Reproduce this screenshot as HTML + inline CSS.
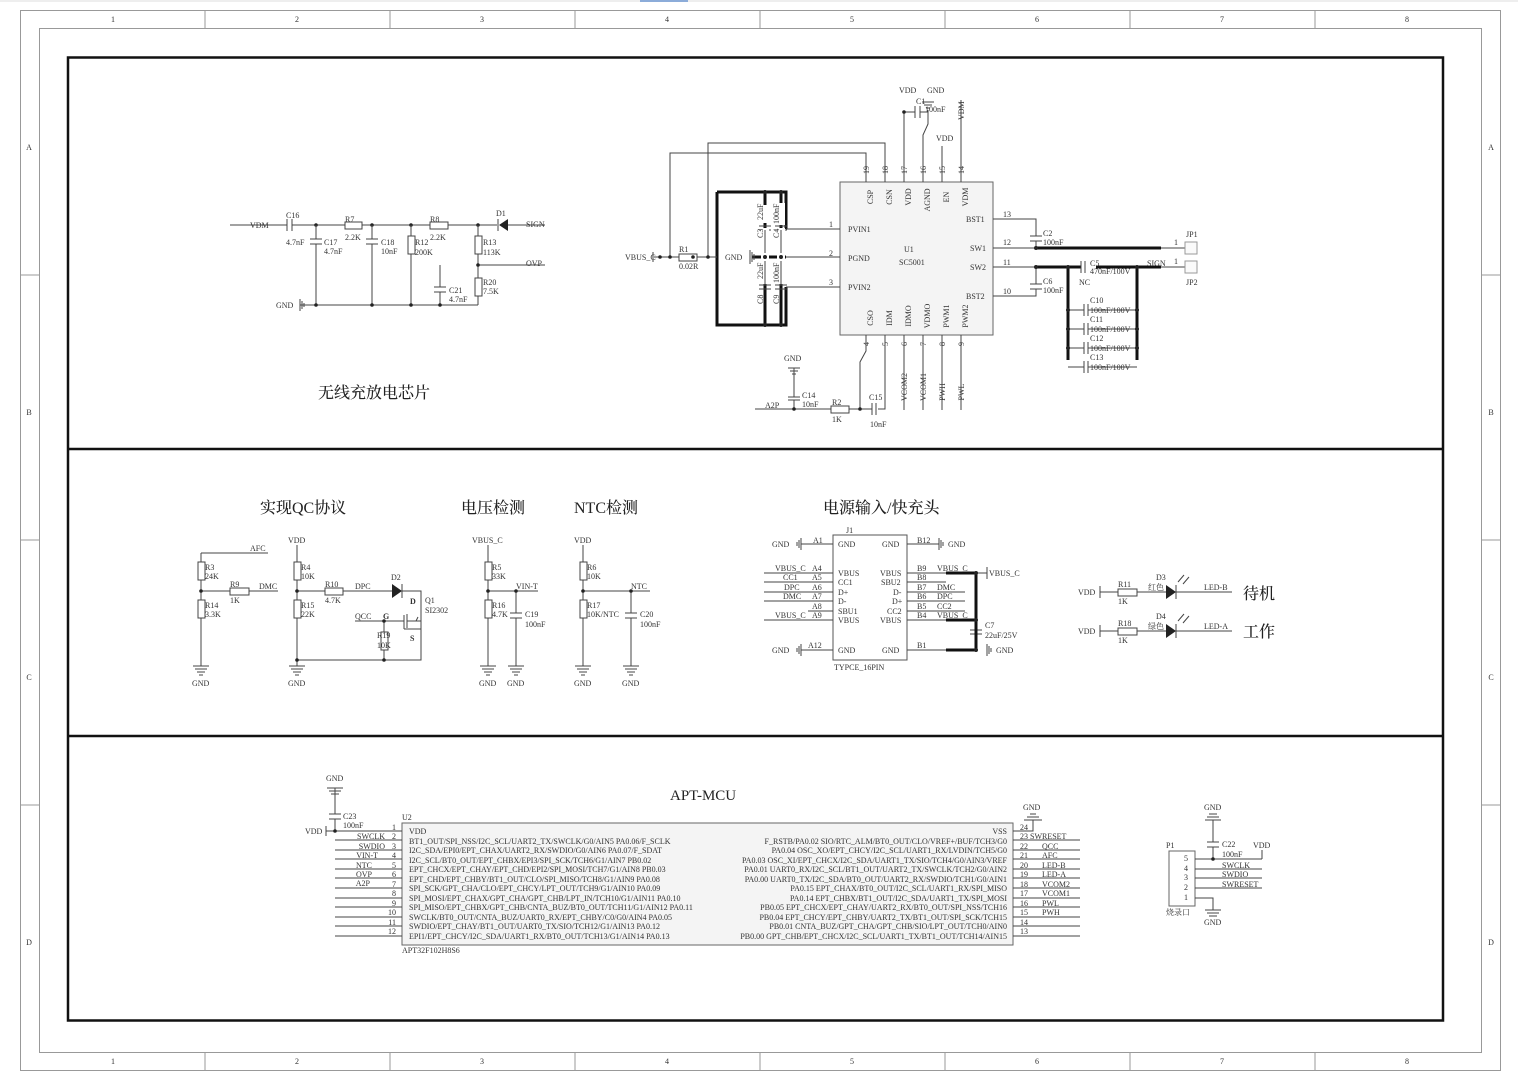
<!DOCTYPE html>
<html><head><meta charset="utf-8"><style>
html,body{margin:0;padding:0;background:#fff}
svg{display:block}
text{font-family:"Liberation Serif","Noto Serif CJK SC",serif;font-size:8px;fill:#333}
.t{font-size:16px;fill:#222;font-family:"Liberation Serif","Noto Serif CJK SC",serif;font-weight:500}
.w{stroke:#444;stroke-width:1;fill:none}
.k{stroke:#111;stroke-width:3;fill:none}
.r{stroke:#444;stroke-width:1;fill:#fff}
.d{fill:#222}
</style></head><body>
<svg width="1518" height="1079" viewBox="0 0 1518 1079" xmlns="http://www.w3.org/2000/svg">
<rect x="0" y="0" width="1518" height="1079" fill="#fff"/>
<rect x="640" y="0" width="48" height="2" fill="#3a7bd5"/>
<line x1="0" y1="1" x2="1518" y2="1" stroke="#ddd"/>
<!-- frame -->
<rect x="20.5" y="10.5" width="1480" height="1060" fill="none" stroke="#999"/>
<rect x="39.5" y="28.5" width="1442" height="1024" fill="none" stroke="#999"/>
<g stroke="#999">
<line x1="205" y1="10" x2="205" y2="28"/><line x1="390" y1="10" x2="390" y2="28"/><line x1="575" y1="10" x2="575" y2="28"/><line x1="760" y1="10" x2="760" y2="28"/><line x1="945" y1="10" x2="945" y2="28"/><line x1="1130" y1="10" x2="1130" y2="28"/><line x1="1315" y1="10" x2="1315" y2="28"/>
<line x1="205" y1="1052" x2="205" y2="1070"/><line x1="390" y1="1052" x2="390" y2="1070"/><line x1="575" y1="1052" x2="575" y2="1070"/><line x1="760" y1="1052" x2="760" y2="1070"/><line x1="945" y1="1052" x2="945" y2="1070"/><line x1="1130" y1="1052" x2="1130" y2="1070"/><line x1="1315" y1="1052" x2="1315" y2="1070"/>
<line x1="20" y1="275" x2="39" y2="275"/><line x1="20" y1="540" x2="39" y2="540"/><line x1="20" y1="805" x2="39" y2="805"/>
<line x1="1481" y1="275" x2="1500" y2="275"/><line x1="1481" y1="540" x2="1500" y2="540"/><line x1="1481" y1="805" x2="1500" y2="805"/>
</g>
<g text-anchor="middle">
<text x="113" y="22">1</text><text x="297" y="22">2</text><text x="482" y="22">3</text><text x="667" y="22">4</text><text x="852" y="22">5</text><text x="1037" y="22">6</text><text x="1222" y="22">7</text><text x="1407" y="22">8</text>
<text x="113" y="1064">1</text><text x="297" y="1064">2</text><text x="482" y="1064">3</text><text x="667" y="1064">4</text><text x="852" y="1064">5</text><text x="1037" y="1064">6</text><text x="1222" y="1064">7</text><text x="1407" y="1064">8</text>
<text x="29" y="150">A</text><text x="29" y="415">B</text><text x="29" y="680">C</text><text x="29" y="945">D</text>
<text x="1491" y="150">A</text><text x="1491" y="415">B</text><text x="1491" y="680">C</text><text x="1491" y="945">D</text>
</g>
<!-- big boxes -->
<rect x="68" y="57.5" width="1375" height="963" fill="none" stroke="#111" stroke-width="2.5"/>
<line x1="68" y1="449" x2="1443" y2="449" stroke="#111" stroke-width="2.5"/>
<line x1="68" y1="736" x2="1443" y2="736" stroke="#111" stroke-width="2.5"/>

<!-- ===== Section 1 left ===== -->
<g>
<path class="w" d="M230 225 H287 M292 225 H345 M362 225 H430 M448 225 H497 M508 225 H545"/>
<line x1="287" y1="219" x2="287" y2="231" class="w"/><line x1="292" y1="219" x2="292" y2="231" class="w"/>
<text x="250" y="228">VDM</text><text x="286" y="218">C16</text><text x="286" y="245">4.7nF</text>
<rect x="345" y="222" width="17" height="7" class="r"/><text x="345" y="222">R7</text><text x="345" y="240">2.2K</text>
<rect x="430" y="222" width="18" height="7" class="r"/><text x="430" y="222">R8</text><text x="430" y="240">2.2K</text>
<polygon points="508,219 508,231 499,225" class="d"/><line x1="498" y1="219" x2="498" y2="231" class="w"/>
<text x="496" y="216">D1</text><text x="526" y="227">SIGN</text>
<circle cx="316" cy="225" r="1.8" class="d"/><circle cx="372" cy="225" r="1.8" class="d"/><circle cx="411" cy="225" r="1.8" class="d"/><circle cx="478" cy="225" r="1.8" class="d"/>
<path class="w" d="M316 225 V239 M316 244 V305 M372 225 V239 M372 244 V305 M411 225 V236 M411 254 V305 M478 225 V236 M478 254 V278 M478 296 V305 M300 305 H478 M478 265 H545 M440 265 V287 M440 292 V305"/>
<path class="w" d="M310 239 H322 M310 244 H322 M366 239 H378 M366 244 H378 M434 287 H446 M434 292 H446"/>
<rect x="408" y="236" width="7" height="18" class="r"/><rect x="475" y="236" width="7" height="18" class="r"/><rect x="475" y="278" width="7" height="18" class="r"/>
<circle cx="478" cy="265" r="1.8" class="d"/><circle cx="316" cy="305" r="1.8" class="d"/><circle cx="372" cy="305" r="1.8" class="d"/><circle cx="411" cy="305" r="1.8" class="d"/><circle cx="440" cy="305" r="1.8" class="d"/>
<path class="w" d="M300 299 V311 M302 301 V309 M304 303 V307"/>
<text x="276" y="308">GND</text>
<text x="324" y="245">C17</text><text x="324" y="254">4.7nF</text>
<text x="381" y="245">C18</text><text x="381" y="254">10nF</text>
<text x="415" y="245">R12</text><text x="415" y="255">200K</text>
<text x="483" y="245">R13</text><text x="483" y="255">113K</text>
<text x="526" y="266">OVP</text>
<text x="449" y="293">C21</text><text x="449" y="302">4.7nF</text>
<text x="483" y="285">R20</text><text x="483" y="294">7.5K</text>
<text x="318" y="398" class="t">无线充放电芯片</text>
</g>

<!-- ===== U1 ===== -->
<g>
<rect x="840" y="182" width="153" height="153" fill="#f4f4f4" stroke="#666"/>
<path class="w" d="M866 182 V153 H670 V258 M885 182 V143 H708 V258 M904 182 V112 M923 182 V135 L928 124 V110 M942 182 V146 M961 182 V100"/>
<path class="w" d="M904 112 H915 M920 112 H928 M915 106 V118 M920 106 V118"/>
<circle cx="904" cy="112" r="1.8" class="d"/>
<path class="w" d="M922 102 H934 M924 105 H932 M926 108 H930"/>
<text x="899" y="93">VDD</text><text x="927" y="93">GND</text><text x="916" y="104">C1</text><text x="925" y="112">100nF</text>
<text x="936" y="141">VDD</text>
<text x="0" y="0" transform="translate(964,120) rotate(-90)">VDM</text>
<g text-anchor="middle">
<text transform="translate(869,170) rotate(-90)">19</text><text transform="translate(888,170) rotate(-90)">18</text><text transform="translate(907,170) rotate(-90)">17</text><text transform="translate(926,170) rotate(-90)">16</text><text transform="translate(945,170) rotate(-90)">15</text><text transform="translate(964,170) rotate(-90)">14</text>
<text transform="translate(873,197) rotate(-90)">CSP</text><text transform="translate(892,197) rotate(-90)">CSN</text><text transform="translate(911,197) rotate(-90)">VDD</text><text transform="translate(930,200) rotate(-90)">AGND</text><text transform="translate(949,197) rotate(-90)">EN</text><text transform="translate(968,197) rotate(-90)">VDM</text>
<text transform="translate(873,318) rotate(-90)">CSO</text><text transform="translate(892,318) rotate(-90)">IDM</text><text transform="translate(911,316) rotate(-90)">IDMO</text><text transform="translate(930,316) rotate(-90)">VDMO</text><text transform="translate(949,316) rotate(-90)">PWM1</text><text transform="translate(968,316) rotate(-90)">PWM2</text>
<text transform="translate(869,344) rotate(-90)">4</text><text transform="translate(888,344) rotate(-90)">5</text><text transform="translate(907,344) rotate(-90)">6</text><text transform="translate(926,344) rotate(-90)">7</text><text transform="translate(945,344) rotate(-90)">8</text><text transform="translate(964,344) rotate(-90)">9</text>
<text transform="translate(907,387) rotate(-90)">VCOM2</text><text transform="translate(926,387) rotate(-90)">VCOM1</text><text transform="translate(945,392) rotate(-90)">PWH</text><text transform="translate(964,392) rotate(-90)">PWL</text>
</g>
<path class="w" d="M866 335 V351 L860 362 V409 M885 335 V409 H878 M904 335 V410 M923 335 V410 M942 335 V410 M961 335 V410"/>
<path class="w" d="M755 409 H831 M849 409 H860 M860 409 H872 M872 403 V415 M876 403 V415 M794 368 V397 M794 400 V409"/>
<path class="w" d="M788 397 H800 M788 400 H800 M788 368 H800 M790 371 H798 M792 374 H796"/>
<rect x="831" y="406" width="18" height="7" class="r"/>
<circle cx="794" cy="409" r="1.8" class="d"/><circle cx="860" cy="409" r="1.8" class="d"/>
<text x="784" y="361">GND</text><text x="802" y="398">C14</text><text x="802" y="407">10nF</text><text x="765" y="408">A2P</text>
<text x="832" y="405">R2</text><text x="832" y="422">1K</text><text x="869" y="400">C15</text><text x="870" y="427">10nF</text>
<text x="904" y="252">U1</text><text x="899" y="265">SC5001</text>
<text x="848" y="232">PVIN1</text><text x="848" y="261">PGND</text><text x="848" y="290">PVIN2</text>
<text x="966" y="222">BST1</text><text x="970" y="251">SW1</text><text x="970" y="270">SW2</text><text x="966" y="299">BST2</text>
<text x="829" y="227">1</text><text x="829" y="256">2</text><text x="829" y="285">3</text>
<text x="1003" y="217">13</text><text x="1003" y="245">12</text><text x="1003" y="265">11</text><text x="1003" y="294">10</text>
<!-- left thick -->
<path class="k" d="M717 192 H786 V229 M717 192 V325 H786 V287"/>
<path class="w" d="M786 229 H840 M786 287 H840 M786 257 H840"/>
<path class="k" d="M752 257 H786 M765 192 V325 M781 192 V325"/>
<path class="w" d="M759 226 H771 M759 230 H771 M775 226 H787 M775 230 H787 M759 285 H771 M759 289 H771 M775 285 H787 M775 289 H787"/>
<rect x="761" y="228" width="8" height="56" fill="#fff"/><rect x="777" y="228" width="8" height="56" fill="#fff"/>
<path class="w" d="M765 230 V253 M765 261 V285 M781 230 V253 M781 261 V285"/>
<rect x="761" y="205" width="8" height="18" fill="#fff"/><rect x="777" y="203" width="8" height="22" fill="#fff"/>
<text transform="translate(763,220) rotate(-90)" font-size="7">22uF</text><text transform="translate(779,224) rotate(-90)" font-size="7">100nF</text>
<text transform="translate(763,238) rotate(-90)" font-size="7">C3</text><text transform="translate(779,238) rotate(-90)" font-size="7">C4</text>
<text transform="translate(763,279) rotate(-90)" font-size="7">22uF</text><text transform="translate(779,283) rotate(-90)" font-size="7">100nF</text>
<text transform="translate(763,304) rotate(-90)" font-size="7">C8</text><text transform="translate(779,304) rotate(-90)" font-size="7">C9</text>
<circle cx="765" cy="192" r="2" class="d"/><circle cx="781" cy="192" r="2" class="d"/><circle cx="765" cy="257" r="2" class="d"/><circle cx="781" cy="257" r="2" class="d"/><circle cx="765" cy="325" r="2" class="d"/><circle cx="781" cy="325" r="2" class="d"/>
<path class="w" d="M750 250 V264 M752 252 V262 M754 254 V260"/>
<text x="725" y="260">GND</text>
<path class="w" d="M654 257 H679 M697 257 H717 M653 252 V262"/>
<rect x="679" y="254" width="18" height="7" class="r"/>
<circle cx="660" cy="257" r="1.8" class="d"/><circle cx="693" cy="257" r="1.8" class="d"/>
<circle cx="670" cy="257" r="1.8" class="d"/><circle cx="708" cy="257" r="1.8" class="d"/>
<text x="625" y="260">VBUS_C</text><text x="679" y="252">R1</text><text x="679" y="269">0.02R</text>
<!-- right side -->
<path class="w" d="M993 219 H1036 V236 M1036 241 V248 M993 248 H1036 M993 267 H1036 V284 M1036 289 V296 H993"/>
<path class="w" d="M1030 236 H1042 M1030 241 H1042 M1030 284 H1042 M1030 289 H1042"/>
<path class="k" d="M1036 248 H1161 M1036 267 H1081 M1096 267 H1161"/>
<path class="w" d="M1161 248 H1185 M1161 267 H1185 M1081 261 V273 M1085 261 V273"/>
<rect x="1185" y="242" width="12" height="12" fill="#fafafa" stroke="#999"/><rect x="1185" y="261" width="12" height="12" fill="#fafafa" stroke="#999"/>
<path class="k" d="M1068 267 V360 M1137 267 V360"/>
<path class="w" d="M1068 310 H1084 M1088 310 H1137 M1068 329 H1084 M1088 329 H1137 M1068 348 H1084 M1088 348 H1137 M1068 367 H1084 M1088 367 H1137 M1084 304 V316 M1088 304 V316 M1084 323 V335 M1088 323 V335 M1084 342 V354 M1088 342 V354 M1084 361 V373 M1088 361 V373"/>
<g class="d"><circle cx="1036" cy="248" r="2"/><circle cx="1036" cy="267" r="2"/><circle cx="1068" cy="267" r="2"/><circle cx="1137" cy="267" r="2"/><circle cx="1068" cy="310" r="2"/><circle cx="1137" cy="310" r="2"/><circle cx="1068" cy="329" r="2"/><circle cx="1137" cy="329" r="2"/><circle cx="1068" cy="348" r="2"/><circle cx="1137" cy="348" r="2"/></g>
<text x="1043" y="236">C2</text><text x="1043" y="245">100nF</text><text x="1043" y="284">C6</text><text x="1043" y="293">100nF</text>
<text x="1090" y="266">C5</text><text x="1090" y="274">470nF/100V</text><text x="1079" y="285" font-size="7">NC</text>
<text x="1147" y="266">SIGN</text><text x="1174" y="245">1</text><text x="1174" y="264">1</text>
<text x="1186" y="237">JP1</text><text x="1186" y="285">JP2</text>
<text x="1090" y="303">C10</text><text x="1090" y="313">100nF/100V</text>
<text x="1090" y="322">C11</text><text x="1090" y="332">100nF/100V</text>
<text x="1090" y="341">C12</text><text x="1090" y="351">100nF/100V</text>
<text x="1090" y="360">C13</text><text x="1090" y="370">100nF/100V</text>
</g>

<!-- ===== Section 2 ===== -->
<g>
<text x="260" y="513" class="t">实现QC协议</text><text x="461" y="513" class="t">电压检测</text><text x="574" y="513" class="t">NTC检测</text><text x="823" y="513" class="t">电源输入/快充头</text>
<!-- QC -->
<path class="w" d="M201 553 H268 M201 553 V562 M201 580 V600 M201 618 V666 M201 591 H230 M249 591 H278"/>
<rect x="198" y="562" width="7" height="18" class="r"/><rect x="198" y="600" width="7" height="18" class="r"/><rect x="230" y="588" width="19" height="7" class="r"/>
<circle cx="201" cy="591" r="1.8" class="d"/>
<path class="w" d="M193 666 H209 M195 669 H207 M197 672 H205 M199 675 H203"/>
<text x="250" y="551">AFC</text><text x="205" y="570">R3</text><text x="205" y="579">24K</text><text x="230" y="587">R9</text><text x="230" y="603">1K</text><text x="259" y="589">DMC</text>
<text x="205" y="608">R14</text><text x="205" y="617">3.3K</text><text x="192" y="686">GND</text>
<path class="w" d="M297 545 V562 M297 580 V600 M297 618 V666 M297 591 H325 M343 591 H392 M402 591 H421 V660 H297 M355 621 H404 M384 621 V632 M384 650 V660 M404 615 V629 M404 629 H421"/>
<rect x="294" y="562" width="7" height="18" class="r"/><rect x="294" y="600" width="7" height="18" class="r"/><rect x="325" y="588" width="18" height="7" class="r"/><rect x="381" y="632" width="7" height="18" class="r"/>
<polygon points="392,584 392,598 402,591" class="d"/><line x1="402" y1="584" x2="402" y2="598" class="w"/>
<path class="w" d="M407 614 V628 M407 621 H421 M418 617 L416 621 H421"/>
<g class="d"><circle cx="297" cy="591" r="1.8"/><circle cx="297" cy="660" r="1.8"/><circle cx="384" cy="621" r="1.8"/><circle cx="384" cy="660" r="1.8"/></g>
<path class="w" d="M289 666 H305 M291 669 H303 M293 672 H301 M295 675 H299"/>
<text x="288" y="543">VDD</text><text x="301" y="570">R4</text><text x="301" y="579">10K</text><text x="301" y="608">R15</text><text x="301" y="617">22K</text>
<text x="325" y="587">R10</text><text x="325" y="603">4.7K</text><text x="355" y="589">DPC</text><text x="391" y="580">D2</text>
<text x="410" y="604" font-weight="bold">D</text><text x="425" y="603">Q1</text><text x="425" y="613">SI2302</text>
<text x="355" y="619">QCC</text><text x="383" y="619" font-weight="bold">G</text><text x="410" y="641" font-weight="bold">S</text>
<text x="377" y="638">R19</text><text x="377" y="648">10K</text><text x="288" y="686">GND</text>
<!-- voltage -->
<path class="w" d="M488 545 V562 M488 580 V600 M488 618 V666 M488 591 H538 M516 591 V613 M516 618 V666 M510 613 H522 M510 618 H522"/>
<rect x="485" y="562" width="7" height="18" class="r"/><rect x="485" y="600" width="7" height="18" class="r"/>
<g class="d"><circle cx="488" cy="591" r="1.8"/><circle cx="516" cy="591" r="1.8"/></g>
<path class="w" d="M480 666 H496 M482 669 H494 M484 672 H492 M486 675 H490 M508 666 H524 M510 669 H522 M512 672 H520 M514 675 H518"/>
<text x="472" y="543">VBUS_C</text><text x="492" y="570">R5</text><text x="492" y="579">33K</text><text x="492" y="608">R16</text><text x="492" y="617">4.7K</text>
<text x="516" y="589">VIN-T</text><text x="525" y="617">C19</text><text x="525" y="627">100nF</text><text x="479" y="686">GND</text><text x="507" y="686">GND</text>
<!-- NTC -->
<path class="w" d="M583 545 V562 M583 580 V600 M583 618 V666 M583 591 H650 M631 591 V613 M631 618 V666 M625 613 H637 M625 618 H637"/>
<rect x="580" y="562" width="7" height="18" class="r"/><rect x="580" y="600" width="7" height="18" class="r"/>
<g class="d"><circle cx="583" cy="591" r="1.8"/><circle cx="631" cy="591" r="1.8"/></g>
<path class="w" d="M575 666 H591 M577 669 H589 M579 672 H587 M581 675 H585 M623 666 H639 M625 669 H637 M627 672 H635 M629 675 H633"/>
<text x="574" y="543">VDD</text><text x="587" y="570">R6</text><text x="587" y="579">10K</text><text x="587" y="608">R17</text><text x="587" y="617">10K/NTC</text>
<text x="631" y="589">NTC</text><text x="640" y="617">C20</text><text x="640" y="627">100nF</text><text x="574" y="686">GND</text><text x="622" y="686">GND</text>
<!-- J1 -->
<rect x="833" y="535" width="74" height="125" fill="#fff" stroke="#555"/>
<path class="w" d="M801 544 H833 M764 573 H833 M764 582 H833 M764 592 H833 M764 601 H833 M808 611 H833 M764 620 H833 M801 650 H833 M907 544 H939 M907 573 H946 M907 582 H946 M907 592 H965 M907 601 H965 M907 611 H965 M907 620 H946 M907 650 H946 M976 620 V630 M976 634 V650 M970 630 H982 M970 634 H982 M976 573 H987"/>
<path class="k" d="M946 573 H976 V650 H946 M946 620 H976"/>
<g class="d"><circle cx="976" cy="573" r="2"/><circle cx="976" cy="620" r="2"/><circle cx="976" cy="650" r="2"/></g>
<path class="w" d="M801 538 V550 M799 540 V548 M797 542 V546 M801 644 V656 M799 646 V654 M797 648 V652 M939 538 V550 M941 540 V548 M943 542 V546 M987 644 V656 M989 646 V654 M991 648 V652 M987 567 V579"/>
<text x="772" y="547">GND</text><text x="813" y="543">A1</text><text x="838" y="547">GND</text><text x="882" y="547">GND</text><text x="917" y="543">B12</text><text x="948" y="547">GND</text>
<text x="775" y="571">VBUS_C</text><text x="812" y="571">A4</text><text x="838" y="576">VBUS</text><text x="880" y="576">VBUS</text><text x="917" y="571">B9</text><text x="937" y="571">VBUS_C</text><text x="989" y="576">VBUS_C</text>
<text x="783" y="580">CC1</text><text x="812" y="580">A5</text><text x="838" y="585">CC1</text><text x="881" y="585">SBU2</text><text x="917" y="580">B8</text>
<text x="784" y="590">DPC</text><text x="812" y="590">A6</text><text x="838" y="595">D+</text><text x="893" y="595">D-</text><text x="917" y="590">B7</text><text x="937" y="590">DMC</text>
<text x="783" y="599">DMC</text><text x="812" y="599">A7</text><text x="838" y="604">D-</text><text x="892" y="604">D+</text><text x="917" y="599">B6</text><text x="937" y="599">DPC</text>
<text x="812" y="609">A8</text><text x="838" y="614">SBU1</text><text x="887" y="614">CC2</text><text x="917" y="609">B5</text><text x="937" y="609">CC2</text>
<text x="775" y="618">VBUS_C</text><text x="812" y="618">A9</text><text x="838" y="623">VBUS</text><text x="880" y="623">VBUS</text><text x="917" y="618">B4</text><text x="937" y="618">VBUS_C</text>
<text x="772" y="653">GND</text><text x="808" y="648">A12</text><text x="838" y="653">GND</text><text x="882" y="653">GND</text><text x="917" y="648">B1</text><text x="996" y="653">GND</text>
<text x="846" y="533">J1</text><text x="834" y="670">TYPCE_16PIN</text><text x="985" y="628">C7</text><text x="985" y="638">22uF/25V</text>
<!-- LEDs -->
<path class="w" d="M1100 586 V598 M1100 592 H1118 M1137 592 H1166 M1176 592 H1232 M1100 625 V637 M1100 631 H1118 M1137 631 H1166 M1176 631 H1232 M1176 585 V599 M1176 624 V638"/>
<rect x="1118" y="589" width="19" height="7" class="r"/><rect x="1118" y="628" width="19" height="7" class="r"/>
<polygon points="1166,585 1166,599 1176,592" class="d"/><polygon points="1166,624 1166,638 1176,631" class="d"/>
<path class="w" d="M1178 582 L1184 575 M1183 584 L1189 577 M1178 621 L1184 614 M1183 623 L1189 616"/>
<text x="1078" y="595">VDD</text><text x="1118" y="587">R11</text><text x="1118" y="604">1K</text><text x="1156" y="580">D3</text><text x="1148" y="590" font-size="8">红色</text><text x="1204" y="590">LED-B</text>
<text x="1078" y="634">VDD</text><text x="1118" y="626">R18</text><text x="1118" y="643">1K</text><text x="1156" y="619">D4</text><text x="1148" y="629" font-size="8">绿色</text><text x="1204" y="629">LED-A</text>
<text x="1243" y="599" class="t">待机</text><text x="1243" y="637" class="t">工作</text>
</g>

<!-- ===== Section 3 ===== -->
<g>
<text x="670" y="800" class="t" style="font-size:15px">APT-MCU</text>
<rect x="402" y="823" width="611" height="122" fill="#f4f4f4" stroke="#666"/>
<text x="402" y="820">U2</text><text x="402" y="953" font-size="7">APT32F102H8S6</text>
<path class="w" d="M335 788 V814 M335 819 V831 M329 814 H341 M329 819 H341 M327 788 H343 M329 791 H341 M331 794 H339 M326 826 V836 M326 831 H402"/>
<circle cx="335" cy="831" r="1.8" class="d"/>
<text x="326" y="781">GND</text><text x="343" y="819">C23</text><text x="343" y="828">100nF</text><text x="305" y="834">VDD</text>
<path class="w" d="M335 840 H402 M335 850 H402 M335 859 H402 M335 869 H402 M335 878 H402 M335 888 H402 M335 898 H402 M335 907 H402 M335 917 H402 M335 926 H402 M335 936 H402"/>
<g text-anchor="end">
<text x="385" y="839">SWCLK</text><text x="385" y="849">SWDIO</text><text x="378" y="858">VIN-T</text><text x="372" y="868">NTC</text><text x="372" y="877">OVP</text><text x="370" y="886">A2P</text>
<text x="396" y="830">1</text><text x="396" y="839">2</text><text x="396" y="849">3</text><text x="396" y="858">4</text><text x="396" y="868">5</text><text x="396" y="877">6</text><text x="396" y="887">7</text><text x="396" y="896">8</text><text x="396" y="906">9</text><text x="396" y="915">10</text><text x="396" y="925">11</text><text x="396" y="934">12</text>
</g>
<g font-size="8">
<text x="409" y="834">VDD</text>
<text x="409" y="844">BT1_OUT/SPI_NSS/I2C_SCL/UART2_TX/SWCLK/G0/AIN5 PA0.06/F_SCLK</text>
<text x="409" y="853">I2C_SDA/EPI0/EPT_CHAX/UART2_RX/SWDIO/G0/AIN6 PA0.07/F_SDAT</text>
<text x="409" y="863">I2C_SCL/BT0_OUT/EPT_CHBX/EPI3/SPI_SCK/TCH6/G1/AIN7 PB0.02</text>
<text x="409" y="872">EPT_CHCX/EPT_CHAY/EPT_CHD/EPI2/SPI_MOSI/TCH7/G1/AIN8 PB0.03</text>
<text x="409" y="882">EPT_CHD/EPT_CHBY/BT1_OUT/CLO/SPI_MISO/TCH8/G1/AIN9 PA0.08</text>
<text x="409" y="891">SPI_SCK/GPT_CHA/CLO/EPT_CHCY/LPT_OUT/TCH9/G1/AIN10 PA0.09</text>
<text x="409" y="901">SPI_MOSI/EPT_CHAX/GPT_CHA/GPT_CHB/LPT_IN/TCH10/G1/AIN11 PA0.10</text>
<text x="409" y="910">SPI_MISO/EPT_CHBX/GPT_CHB/CNTA_BUZ/BT0_OUT/TCH11/G1/AIN12 PA0.11</text>
<text x="409" y="920">SWCLK/BT0_OUT/CNTA_BUZ/UART0_RX/EPT_CHBY/C0/G0/AIN4 PA0.05</text>
<text x="409" y="929">SWDIO/EPT_CHAY/BT1_OUT/UART0_TX/SIO/TCH12/G1/AIN13 PA0.12</text>
<text x="409" y="939">EPI1/EPT_CHCY/I2C_SDA/UART1_RX/BT0_OUT/TCH13/G1/AIN14 PA0.13</text>
<g text-anchor="end">
<text x="1007" y="834">VSS</text>
<text x="1007" y="844">F_RSTB/PA0.02 SIO/RTC_ALM/BT0_OUT/CLO/VREF+/BUF/TCH3/G0</text>
<text x="1007" y="853">PA0.04 OSC_XO/EPT_CHCY/I2C_SCL/UART1_RX/LVDIN/TCH5/G0</text>
<text x="1007" y="863">PA0.03 OSC_XI/EPT_CHCX/I2C_SDA/UART1_TX/SIO/TCH4/G0/AIN3/VREF</text>
<text x="1007" y="872">PA0.01 UART0_RX/I2C_SCL/BT1_OUT/UART2_TX/SWCLK/TCH2/G0/AIN2</text>
<text x="1007" y="882">PA0.00 UART0_TX/I2C_SDA/BT0_OUT/UART2_RX/SWDIO/TCH1/G0/AIN1</text>
<text x="1007" y="891">PA0.15 EPT_CHAX/BT0_OUT/I2C_SCL/UART1_RX/SPI_MISO</text>
<text x="1007" y="901">PA0.14 EPT_CHBX/BT1_OUT/I2C_SDA/UART1_TX/SPI_MOSI</text>
<text x="1007" y="910">PB0.05 EPT_CHCX/EPT_CHAY/UART2_RX/BT0_OUT/SPI_NSS/TCH16</text>
<text x="1007" y="920">PB0.04 EPT_CHCY/EPT_CHBY/UART2_TX/BT1_OUT/SPI_SCK/TCH15</text>
<text x="1007" y="929">PB0.01 CNTA_BUZ/GPT_CHA/GPT_CHB/SIO/LPT_OUT/TCH0/AIN0</text>
<text x="1007" y="939">PB0.00 GPT_CHB/EPT_CHCX/I2C_SCL/UART1_TX/BT1_OUT/TCH14/AIN15</text>
</g></g>
<path class="w" d="M1013 831 H1033 V820 M1024 820 H1042 M1027 817 H1039 M1030 814 H1036 M1013 840 H1080 M1013 850 H1080 M1013 859 H1080 M1013 869 H1080 M1013 878 H1080 M1013 888 H1080 M1013 898 H1080 M1013 907 H1080 M1013 917 H1080 M1013 926 H1080 M1013 936 H1080"/>
<text x="1023" y="810">GND</text>
<text x="1020" y="830">24</text><text x="1020" y="839">23 SWRESET</text><text x="1020" y="849">22</text><text x="1042" y="849">QCC</text><text x="1020" y="858">21</text><text x="1042" y="858">AFC</text>
<text x="1020" y="868">20</text><text x="1042" y="868">LED-B</text><text x="1020" y="877">19</text><text x="1042" y="877">LED-A</text><text x="1020" y="887">18</text><text x="1042" y="887">VCOM2</text>
<text x="1020" y="896">17</text><text x="1042" y="896">VCOM1</text><text x="1020" y="906">16</text><text x="1042" y="906">PWL</text><text x="1020" y="915">15</text><text x="1042" y="915">PWH</text><text x="1020" y="925">14</text><text x="1020" y="934">13</text>
<!-- P1 -->
<rect x="1169" y="851" width="26" height="55" fill="#fff" stroke="#666"/>
<path class="w" d="M1195 859 H1262 M1195 869 H1262 M1195 878 H1262 M1195 888 H1262 M1195 898 H1213 V910 M1213 820 V842 M1213 847 V859 M1207 842 H1219 M1207 847 H1219 M1205 820 H1221 M1207 817 H1219 M1209 814 H1217 M1205 910 H1221 M1207 913 H1219 M1209 916 H1217 M1262 850 V859"/>
<circle cx="1213" cy="859" r="1.8" class="d"/>
<text x="1204" y="810">GND</text><text x="1222" y="847">C22</text><text x="1222" y="857">100nF</text><text x="1253" y="848">VDD</text><text x="1166" y="848">P1</text>
<text x="1184" y="861">5</text><text x="1184" y="871">4</text><text x="1184" y="880">3</text><text x="1184" y="890">2</text><text x="1184" y="900">1</text>
<text x="1222" y="868">SWCLK</text><text x="1222" y="877">SWDIO</text><text x="1222" y="887">SWRESET</text>
<text x="1166" y="915">烧录口</text><text x="1204" y="925">GND</text>
</g>
</svg>
</body></html>
